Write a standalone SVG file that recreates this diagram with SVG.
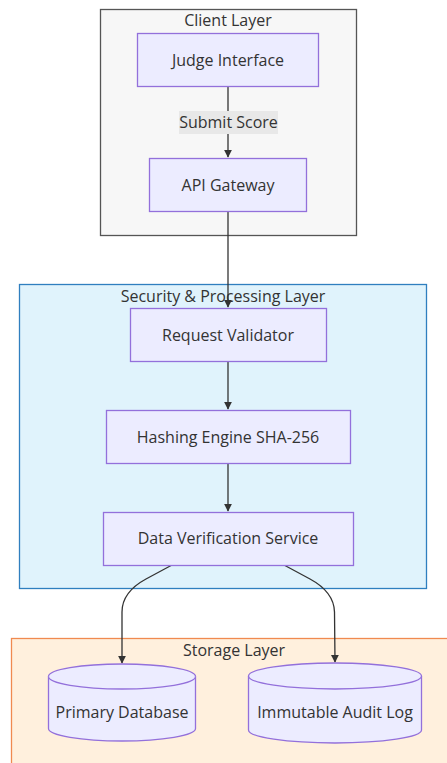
<svg xmlns="http://www.w3.org/2000/svg" width="447" height="763" viewBox="0 0 447 763">
<style>
text{font-family:"Open Sans","DejaVu Sans",sans-serif;font-size:16px;fill:#333;text-anchor:middle;dominant-baseline:central}
.node{fill:#ececff;stroke:#9370db;stroke-width:1.3}
.edge{fill:none;stroke:#333;stroke-width:1.3}
</style>
<defs>
<marker id="arr" viewBox="0 0 10 10" refX="9" refY="5" markerWidth="8" markerHeight="8" markerUnits="userSpaceOnUse" orient="auto">
<path d="M0,0 L10,5 L0,10 z" fill="#333"/>
</marker>
</defs>
<g id="client-layer">
<rect x="100.5" y="9.5" width="256" height="226" fill="#f7f7f7" stroke="#555" stroke-width="1.3"/>
<text x="228" y="20">Client Layer</text>
</g>
<g id="security-layer">
<rect x="19.5" y="284.5" width="407" height="304" fill="#e0f3fc" stroke="#2f7fbf" stroke-width="1.3"/>
<text x="223" y="296">Security &amp; Processing Layer</text>
</g>
<g id="storage-layer">
<rect x="11.5" y="638.5" width="440" height="130" fill="#fff0dd" stroke="#f08a50" stroke-width="1.3"/>
<text x="234" y="650">Storage Layer</text>
</g>
<g id="connectors">
<path class="edge" d="M228,86 V157" marker-end="url(#arr)"/>
<rect x="179" y="111" width="99" height="23" fill="#e8e8e8"/>
<text x="228.5" y="121.5">Submit Score</text>
<path class="edge" d="M228,211 V307" marker-end="url(#arr)"/>
<path class="edge" d="M228,362 V409" marker-end="url(#arr)"/>
<path class="edge" d="M228,463 V511" marker-end="url(#arr)"/>
<path class="edge" d="M172,565 L146,579 Q122,592 122,612 L122,663" marker-end="url(#arr)"/>
<path class="edge" d="M284,565 L310,579 Q334,592 334.5,612 L335,662" marker-end="url(#arr)"/>
</g>
<g id="judge-interface">
<rect class="node" x="137.5" y="33.5" width="181" height="53"/>
<text x="228" y="59.5">Judge Interface</text>
</g>
<g id="api-gateway">
<rect class="node" x="149.5" y="158.5" width="157" height="53"/>
<text x="228" y="184.5">API Gateway</text>
</g>
<g id="request-validator">
<rect class="node" x="130.5" y="308.5" width="196" height="53"/>
<text x="228" y="334.5">Request Validator</text>
</g>
<g id="hashing-engine">
<rect class="node" x="106.5" y="410.5" width="244" height="53"/>
<text x="228" y="436.5">Hashing Engine SHA-256</text>
</g>
<g id="data-verification">
<rect class="node" x="103.5" y="512.5" width="250" height="53"/>
<text x="228" y="537.5">Data Verification Service</text>
</g>
<g id="primary-database">
<path class="node" d="M48.5,676.5 A73.5,12.5 0 0 1 195.5,676.5 V728.5 A73.5,12.5 0 0 1 48.5,728.5 Z"/>
<path class="node" fill="none" d="M48.5,676.5 A73.5,12.5 0 0 0 195.5,676.5"/>
<text x="122" y="712">Primary Database</text>
</g>
<g id="audit-log">
<path class="node" d="M248.5,676 A86.5,13 0 0 1 421.5,676 V730 A86.5,13 0 0 1 248.5,730 Z"/>
<path class="node" fill="none" d="M248.5,676 A86.5,13 0 0 0 421.5,676"/>
<text x="335" y="712">Immutable Audit Log</text>
</g>
</svg>
